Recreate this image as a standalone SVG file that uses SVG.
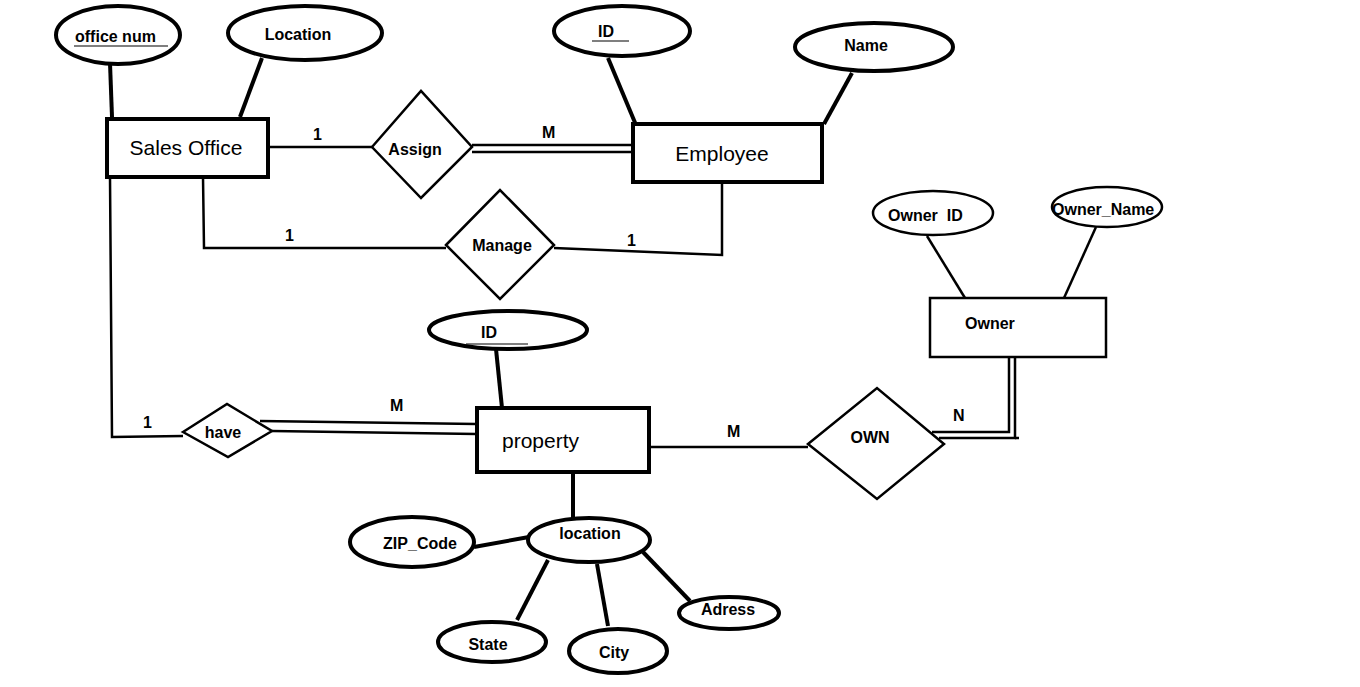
<svg xmlns="http://www.w3.org/2000/svg" width="1360" height="687" viewBox="0 0 1360 687">
<style>
.bg{fill:#fff}
.ent{fill:#fff;stroke:#000;stroke-width:4}
.ent2{fill:#fff;stroke:#000;stroke-width:2.5}
.att{fill:#fff;stroke:#000;stroke-width:4}
.att2{fill:#fff;stroke:#000;stroke-width:2.5}
.rel{fill:#fff;stroke:#000;stroke-width:2.5}
.ln{fill:none;stroke:#000;stroke-width:2.5}
.tk{fill:none;stroke:#000;stroke-width:4}
.ul{fill:none;stroke:#000;stroke-width:1.2}
text{font-family:"Liberation Sans",Arial,sans-serif;fill:#000}
.b{font-weight:bold;font-size:16px}
.r{font-size:21px}
.c{text-anchor:middle}
</style>
<rect class="bg" x="0" y="0" width="1360" height="687"/>
<g id="connectors">
<line class="tk" x1="110" y1="63" x2="112" y2="117"/>
<line class="tk" x1="262" y1="58" x2="240" y2="117"/>
<line class="tk" x1="608" y1="58" x2="636" y2="125"/>
<line class="tk" x1="852" y1="73" x2="824" y2="124"/>
<line class="ln" x1="927" y1="236" x2="965" y2="298"/>
<line class="ln" x1="1096" y1="227" x2="1064" y2="298"/>
<line class="tk" x1="496" y1="349" x2="502" y2="408"/>
<line class="tk" x1="573" y1="472" x2="573" y2="518"/>
<line class="tk" x1="474" y1="547" x2="529" y2="537"/>
<line class="tk" x1="548" y1="560" x2="517" y2="620"/>
<line class="tk" x1="597" y1="564" x2="608" y2="626"/>
<line class="tk" x1="643" y1="552" x2="690" y2="601"/>
<line class="ln" x1="269" y1="147" x2="372" y2="147"/>
<line class="ln" x1="472" y1="145" x2="637" y2="145"/>
<line class="ln" x1="472" y1="152" x2="640" y2="152"/>
<polyline class="ln" points="203,177 204,248 446,248"/>
<polyline class="ln" points="554,248 722,255 722,183"/>
<polyline class="ln" points="110,177 112,437 183,436"/>
<line class="ln" x1="260" y1="421" x2="476" y2="424"/>
<line class="ln" x1="272" y1="431" x2="476" y2="434"/>
<line class="ln" x1="650" y1="447" x2="808" y2="447"/>
<polyline class="ln" points="1009,357 1009,432 932,432"/>
<polyline class="ln" points="1015,357 1015,438 939,438"/>
<line class="ln" x1="1015" y1="438" x2="1019" y2="438"/>
<text class="b" x="313" y="140">1</text>
<text class="b" x="542" y="138">M</text>
<text class="b" x="285" y="241">1</text>
<text class="b" x="627" y="246">1</text>
<text class="b" x="143" y="428">1</text>
<text class="b" x="390" y="411">M</text>
<text class="b" x="727" y="437">M</text>
<text class="b" x="953" y="421">N</text>
</g>
<g id="sales-office">
<rect class="ent" x="107" y="119" width="161" height="58"/>
<text class="r c" x="186" y="155">Sales Office</text>
</g>
<g id="office-num">
<ellipse class="att" cx="118" cy="35" rx="62" ry="29"/>
<text class="b" x="75" y="42">office num</text>
<line class="ul" x1="74" y1="46" x2="168" y2="46"/>
</g>
<g id="location-so">
<ellipse class="att" cx="305" cy="33" rx="77" ry="27"/>
<text class="b c" x="298" y="40">Location</text>
</g>
<g id="assign">
<polygon class="rel" points="372,147 421,91 472,147 421,198"/>
<text class="b c" x="415" y="155">Assign</text>
</g>
<g id="employee">
<rect class="ent" x="633" y="124" width="189" height="58"/>
<text class="r c" x="722" y="161">Employee</text>
</g>
<g id="emp-id">
<ellipse class="att" cx="622" cy="31" rx="68" ry="25"/>
<text class="b" x="598" y="37">ID</text>
<line class="ul" x1="592" y1="41" x2="629" y2="41"/>
</g>
<g id="emp-name">
<ellipse class="att" cx="874" cy="47" rx="79" ry="24"/>
<text class="b c" x="866" y="51">Name</text>
</g>
<g id="manage">
<polygon class="rel" points="446,245 500,190 554,245 500,299"/>
<text class="b c" x="502" y="251">Manage</text>
</g>
<g id="owner">
<rect class="ent2" x="930" y="298" width="176" height="59"/>
<text class="b" x="965" y="329">Owner</text>
</g>
<g id="owner-id">
<ellipse class="att2" cx="933" cy="213" rx="60" ry="22"/>
<text class="b" x="888" y="221">Owner&#160; ID</text>
</g>
<g id="owner-name">
<ellipse class="att2" cx="1107" cy="207" rx="55" ry="20"/>
<text class="b" x="1052" y="215">Owner_Name</text>
</g>
<g id="own">
<polygon class="rel" points="808,444 877,388 944,444 877,499"/>
<text class="b c" x="870" y="443">OWN</text>
</g>
<g id="property">
<rect class="ent" x="477" y="408" width="172" height="64"/>
<text class="r" x="502" y="448">property</text>
</g>
<g id="prop-id">
<ellipse class="att" cx="508" cy="330" rx="79" ry="19"/>
<text class="b" x="481" y="338">ID</text>
<line class="ul" x1="466" y1="344" x2="528" y2="344"/>
</g>
<g id="have">
<polygon class="rel" points="183,432 227,404 272,431 228,457"/>
<text class="b c" x="223" y="438">have</text>
</g>
<g id="location">
<ellipse class="att" cx="589" cy="540" rx="61" ry="22"/>
<text class="b c" x="590" y="539">location</text>
</g>
<g id="zip-code">
<ellipse class="att" cx="412" cy="542" rx="62" ry="25"/>
<text class="b c" x="420" y="549">ZIP_Code</text>
</g>
<g id="state">
<ellipse class="att" cx="492" cy="642" rx="54" ry="20"/>
<text class="b c" x="488" y="650">State</text>
</g>
<g id="city">
<ellipse class="att" cx="618" cy="651" rx="49" ry="22"/>
<text class="b c" x="614" y="658">City</text>
</g>
<g id="adress">
<ellipse class="att" cx="729" cy="613" rx="50" ry="16"/>
<text class="b c" x="728" y="615">Adress</text>
</g>
</svg>
